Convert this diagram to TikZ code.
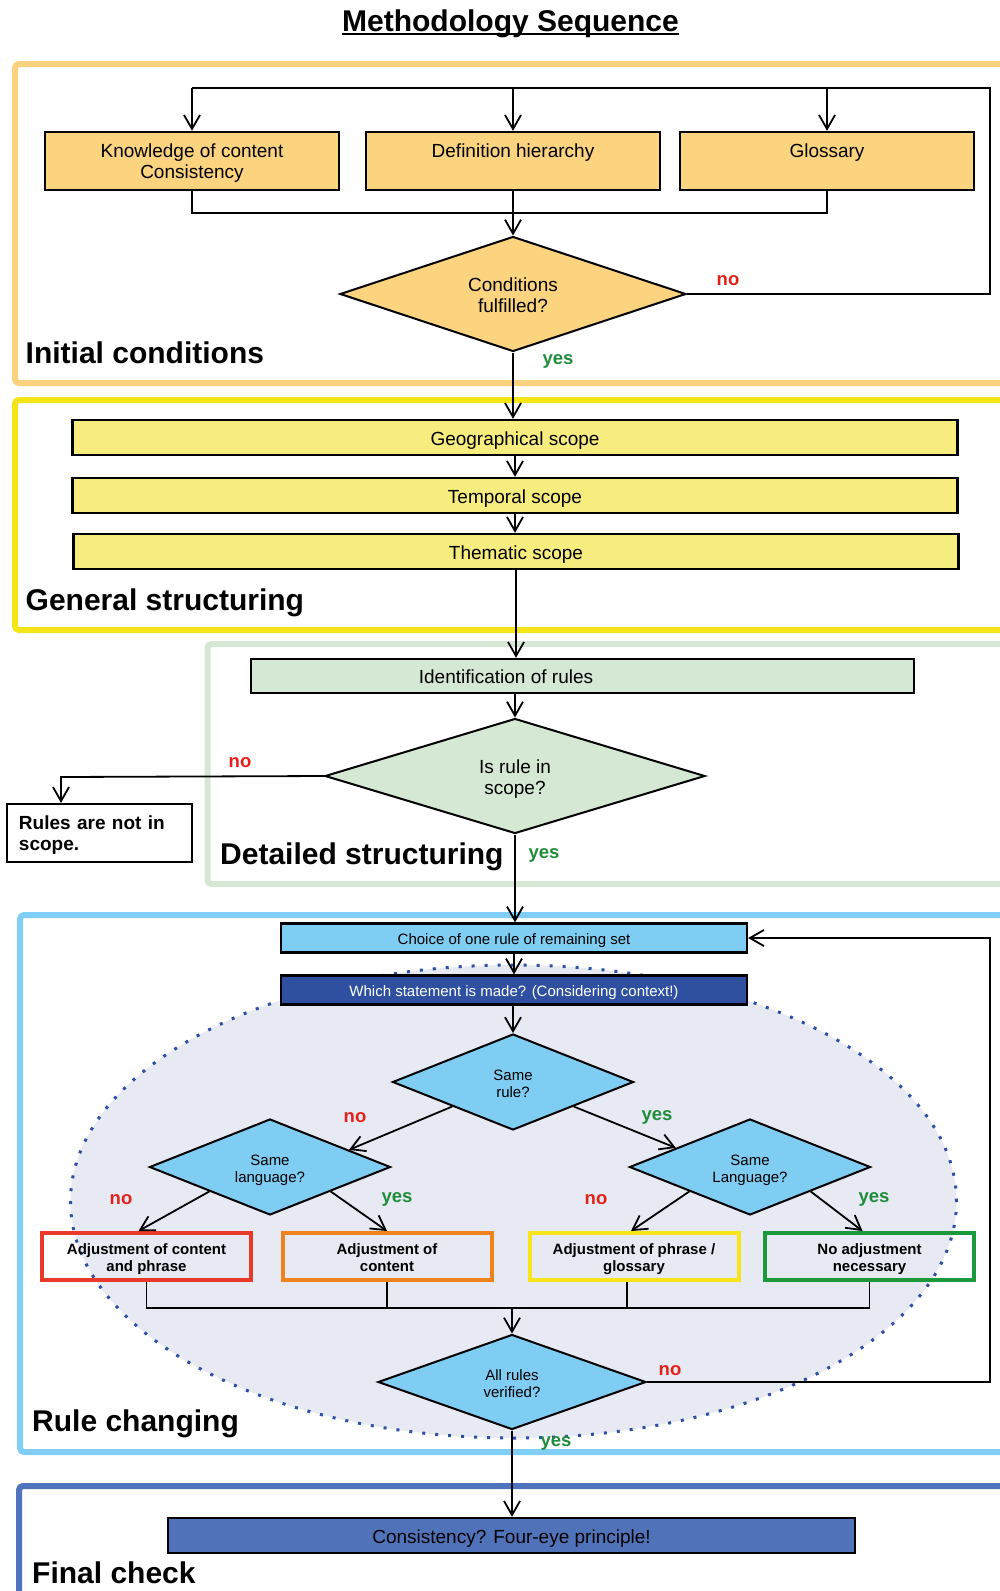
\documentclass[tikz,border=0pt]{standalone}
\usepackage{fontspec}
\setmainfont{Liberation Sans}
\usetikzlibrary{shapes.geometric,arrows.meta,calc}

% lane frames
\definecolor{laneOrange}{HTML}{FCD27E}
\definecolor{laneYellow}{HTML}{F6E516}
\definecolor{laneGreen}{HTML}{D5E8D4}
\definecolor{laneBlue}{HTML}{80CEF3}
\definecolor{laneDark}{HTML}{4F73BD}
% fills
\definecolor{fillOrange}{HTML}{FCD47F}
\definecolor{fillYellow}{HTML}{F7ED7E}
\definecolor{fillGreen}{HTML}{D5E8D4}
\definecolor{fillBlue}{HTML}{7FCDF2}
\definecolor{fillNavy}{HTML}{2F50A0}
\definecolor{fillFinal}{HTML}{4F72B8}
\definecolor{ellFill}{HTML}{E7EAF3}
\definecolor{ellDot}{HTML}{2E4FA8}
% outcome box borders
\definecolor{outRed}{HTML}{E8392A}
\definecolor{outOrange}{HTML}{F0821E}
\definecolor{outYellow}{HTML}{F7E51A}
\definecolor{outGreen}{HTML}{1A9A3C}
% answer labels
\definecolor{noRed}{HTML}{E32119}
\definecolor{yesGreen}{HTML}{1E8C3A}

\newcommand{\fBig}{\fontsize{19}{21}\selectfont}
\newcommand{\fSmall}{\fontsize{15}{17}\selectfont}

\begin{document}
\begin{tikzpicture}[x=1pt,y=-1pt,
  lane/.style={line width=6pt, rounded corners=4pt},
  sbox/.style={draw, line width=2.4pt, inner sep=0pt, align=center, font=\fBig},
  oneline/.style={text height=16pt, text depth=0pt},
  twoline/.style={text height=38.9pt, text depth=4pt},
  cbox/.style={draw, line width=2.2pt, inner sep=0pt, align=center, font=\fSmall,
               text height=13.8pt, text depth=0pt},
  outbox/.style={draw, line width=4pt, inner sep=0pt, align=center, font=\bfseries\fSmall,
                 minimum width=209pt, minimum height=47pt, text height=32pt, text depth=1.2pt},
  dia/.style={diamond, draw, line width=2pt, inner sep=0pt, aspect=2.5, align=center},
  diaBig/.style={dia, font=\fBig, text height=38pt, text depth=2pt},
  diaSmall/.style={dia, font=\fSmall, text height=31pt, text depth=1pt},
  link/.style={line width=1.8pt},
  flow/.style={line width=1.8pt, -{Straight Barb[length=14pt,width=16pt]}},
  lab/.style={font=\bfseries\fontsize{18.5}{20}\selectfont, anchor=base, inner sep=0pt},
  nolab/.style={lab, text=noRed},
  yeslab/.style={lab, text=yesGreen},
  head/.style={font=\bfseries\fontsize{30}{34}\selectfont, anchor=base west, inner sep=0pt}
]
\useasboundingbox (0,0) rectangle (1000,1591);

% ---------- lane frames ----------
\draw[lane, draw=laneOrange] (15,64) rectangle (1030,383);
\draw[lane, draw=laneYellow] (15,400) rectangle (1030,630);
\draw[lane, draw=laneGreen] (207.5,644) rectangle (1030,884);
\draw[lane, draw=laneBlue] (20,915) rectangle (1030,1452);
\draw[lane, draw=laneDark] (19,1486) rectangle (1030,1640);

% ---------- title ----------
\node[font=\bfseries\fontsize{30}{34}\selectfont, anchor=base, inner sep=0pt] (title) at (510.5,31) {Methodology Sequence};
\draw[line width=2pt] ([yshift=-2.5pt]title.base west) -- ([yshift=-2.5pt]title.base east);

% ---------- initial conditions ----------
\node[sbox, twoline, fill=fillOrange, minimum width=294pt, minimum height=58pt] (k1) at (192,161) {Knowledge of content\\Consistency};
\node[sbox, twoline, fill=fillOrange, minimum width=294pt, minimum height=58pt] (k2) at (513,161) {Definition hierarchy\\\mbox{}};
\node[sbox, twoline, fill=fillOrange, minimum width=294pt, minimum height=58pt] (k3) at (827,161) {Glossary\\\mbox{}};
\node[diaBig, fill=fillOrange, minimum width=346pt, minimum height=115pt] (cond) at (513,294) {Conditions\\fulfilled?};
\node[head] (hInit) at (25.5,363) {Initial conditions};

\coordinate (topR) at (990,88);
\coordinate (joinA) at (513,213);
\draw[link] (cond.east) -| (topR) -- (topR -| k1.north);
\draw[flow] (k1.north |- topR) -- (k1.north);
\draw[flow] (k2.north |- topR) -- (k2.north);
\draw[flow] (k3.north |- topR) -- (k3.north);
\draw[link] (k1.south) |- (joinA) -| (k3.south);
\draw[flow] (k2.south) -- (cond.north);
\node[nolab] (condNo) at (728,285) {no};
\node[yeslab] (condYes) at (558,364) {yes};

% ---------- general structuring ----------
\node[sbox, oneline, fill=fillYellow, minimum width=885pt, minimum height=35pt] (geo) at (515,437.5) {Geographical scope};
\node[sbox, oneline, fill=fillYellow, minimum width=885pt, minimum height=35pt] (temp) at (515,495.5) {Temporal scope};
\node[sbox, oneline, fill=fillYellow, minimum width=885pt, minimum height=35pt] (them) at (516,551.5) {Thematic scope};
\node[head] (hGen) at (25.5,610) {General structuring};
\draw[flow] (cond.south) -- (cond.south |- geo.north);
\draw[flow] (geo.south) -- (geo.south |- temp.north);
\draw[flow] (temp.south) -- (temp.south |- them.north);

% ---------- detailed structuring ----------
\node[sbox, fill=fillGreen, minimum width=663pt, minimum height=34pt] (ident) at (582.5,676) {};
\node[font=\fBig, inner sep=0pt] (identText) at (506,676.5) {Identification of rules};
\node[diaBig, fill=fillGreen, minimum width=380pt, minimum height=115pt] (isrule) at (515,776) {Is rule in\\scope?};
\node[draw, line width=2.2pt, inner sep=0pt, minimum width=185pt, minimum height=58pt,
      text width=161pt, align=left, font=\bfseries\fBig, text height=18pt] (noscope) at (99.5,833) {Rules are not in\\scope.};
\node[head] (hDet) at (220,864) {Detailed structuring};
\draw[flow] (them.south) -- (them.south |- ident.north);
\draw[flow] (ident.south -| isrule.north) -- (isrule.north);
\coordinate (nsTurn) at (61,777);
\draw[flow] (isrule.west) -- (nsTurn) -- (nsTurn |- noscope.north);
\node[nolab] (isNo) at (240,767) {no};
\node[yeslab] (isYes) at (544,858) {yes};

% ---------- rule changing ----------
\fill[ellFill] (513.5,1201.5) ellipse [x radius=443pt, y radius=236.5pt];
\draw[ellDot, line width=3pt, dash pattern=on 3pt off 10pt] (513.5,1201.5) ellipse [x radius=443pt, y radius=236.5pt];

\node[cbox, fill=fillBlue, minimum width=466pt, minimum height=29pt] (choice) at (514,938) {Choice of one rule of remaining set};
\node[cbox, fill=fillNavy, text=white, minimum width=466pt, minimum height=29pt] (which) at (514,990) {Which statement is made? (Considering context!)};
\node[diaSmall, fill=fillBlue, minimum width=241pt, minimum height=96pt] (samerule) at (513,1082) {Same\\rule?};
\node[diaSmall, fill=fillBlue, minimum width=241pt, minimum height=96pt] (langL) at (270,1167) {Same\\language?};
\node[diaSmall, fill=fillBlue, minimum width=241pt, minimum height=96pt] (langR) at (750,1167) {Same\\Language?};

\node[outbox, draw=outRed] (adj1) at (146.5,1256.5) {Adjustment of content\\and phrase};
\node[outbox, draw=outOrange] (adj2) at (387,1256.5) {Adjustment of\\content};
\node[outbox, draw=outYellow] (adj3) at (634,1256.5) {Adjustment of phrase /\\glossary};
\node[outbox, draw=outGreen] (adj4) at (869.5,1256.5) {No adjustment\\necessary};

\node[diaSmall, fill=fillBlue, minimum width=268pt, minimum height=95pt] (allrules) at (512,1382) {All rules\\verified?};

\node[sbox, oneline, fill=fillFinal, minimum width=687pt, minimum height=35pt] (final) at (511.5,1535.5) {Consistency? Four-eye principle!};

\node[head] (hRule) at (32,1431) {Rule changing};
\node[head] (hFinal) at (32,1583) {Final check};

\draw[flow] (isrule.south) -- (isrule.south |- choice.north);
\draw[flow] (choice.south) -- (which.north);
\draw[flow] (which.south -| samerule.north) -- (samerule.north);
\draw[flow] (samerule.south west) -- ($(langL.north)!0.65!(langL.east)$);
\draw[flow] (samerule.south east) -- ($(langR.north)!0.61!(langR.west)$);
\draw[flow] (langL.south west) -- ([xshift=-8pt]adj1.north);
\draw[flow] (langL.south east) -- (adj2.north);
\draw[flow] (langR.south west) -- ([xshift=-3pt]adj3.north);
\draw[flow] (langR.south east) -- ([xshift=-7pt]adj4.north);

\coordinate (joinB) at (512,1308);
\draw[link] (adj1.south) |- (joinB) -| (adj4.south);
\draw[link] (adj2.south) -- (adj2.south |- joinB);
\draw[link] ([xshift=-7pt]adj3.south) -- ([xshift=-7pt]adj3.south |- joinB);
\draw[flow] (joinB) -- (allrules.north);

\coordinate (backR) at (990,1382);
\draw[flow] (allrules.east) -- (backR) |- (choice.east);
\draw[flow] (allrules.south) -- (allrules.south |- final.north);

\node[nolab] (srNo) at (355,1122) {no};
\node[yeslab] (srYes) at (657,1120) {yes};
\node[nolab] (lNo) at (121,1204) {no};
\node[yeslab] (lYes) at (397,1202) {yes};
\node[nolab] (rNo) at (596,1204) {no};
\node[yeslab] (rYes) at (874,1202) {yes};
\node[nolab] (arNo) at (670,1375) {no};
\node[yeslab] (arYes) at (556,1446) {yes};
\end{tikzpicture}
\end{document}
